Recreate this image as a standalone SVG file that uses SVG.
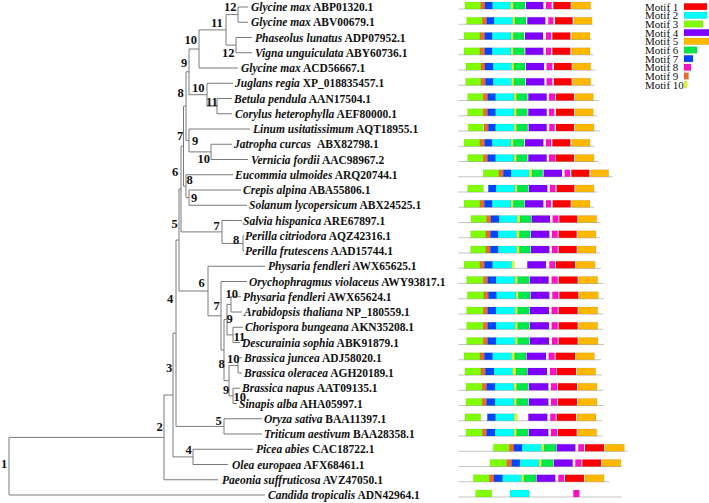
<svg xmlns="http://www.w3.org/2000/svg" width="709" height="503" viewBox="0 0 709 503">
<style>
text{font-family:"Liberation Serif","Times New Roman",serif;fill:#111}
.lf{font-size:11.5px;font-weight:bold}
.sp{font-style:italic}
.nl{font-size:12.5px;font-weight:bold}
.lg{font-size:11px}
.tree path{fill:none;stroke:#7a7a7a;stroke-width:1}
.bl{stroke:#c4c4c4;stroke-width:1.2;vector-effect:non-scaling-stroke}
.mr rect,.legend rect{height:7px;stroke:rgba(0,0,0,.15);stroke-width:.6;vector-effect:non-scaling-stroke}
.m1{fill:#ff0000}.m2{fill:#00ffff}.m3{fill:#80ff00}.m4{fill:#8000ff}.m5{fill:#ffb800}
.m6{fill:#00e84a}.m7{fill:#0046ff}.m8{fill:#ff10c8}.m9{fill:#ee6a2a}.m10{fill:#e0ff20}
</style>
<rect width="709" height="503" fill="#fff"/>

<g class="tree" id="connectors">
<path d="M248,7H238V22.25H248"/>
<path d="M252,37.5H236V52.75H252"/>
<path d="M238,14.6H226V45.1H236"/>
<path d="M226,29.9H199V68H238"/>
<path d="M232,98.5H217V113.75H232"/>
<path d="M233,83.25H207V106.1H217"/>
<path d="M199,49H189V94.7H207"/>
<path d="M232,144.25H211V159.5H248"/>
<path d="M250,129H189V151.9H211"/>
<path d="M189,71.8H186V140.4H189"/>
<path d="M241,190H189V205.25H247"/>
<path d="M233,174.75H186V197.6H189"/>
<path d="M186,106.1H183.5V186.2H186"/>
<path d="M244,235.75H243V251H244"/>
<path d="M242,220.5H222V243.4H243"/>
<path d="M183.5,146.1H181V231.9H222"/>
<path d="M241,296.75H231V312H242"/>
<path d="M243,327.25H233V342.5H240"/>
<path d="M231,304.4H227V334.9H233"/>
<path d="M242,357.75H238V373H242"/>
<path d="M240,388.25H233V403.5H237"/>
<path d="M238,365.4H229V395.9H233"/>
<path d="M227,319.6H224V380.6H229"/>
<path d="M247,281.5H221V350.1H224"/>
<path d="M265,266.25H208V315.8H221"/>
<path d="M181,189H179V291H208"/>
<path d="M262,418.75H224V434H262"/>
<path d="M179,240H176V426.4H224"/>
<path d="M253,449.25H193V464.5H228"/>
<path d="M176,333.2H173V456.9H193"/>
<path d="M173,395H164V479.75H218"/>
<path d="M164,437.4H9V495H265"/>
</g>

<g id="node-labels" class="nl">
<g id="n12a"><text x="224" y="11.3">12</text></g>
<g id="n11a"><text x="211" y="26.8">11</text></g>
<g id="n12b"><text x="222" y="57.1">12</text></g>
<g id="n10a"><text x="184.5" y="43.8">10</text></g>
<g id="n9a"><text x="181" y="66.8">9</text></g>
<g id="n10b"><text x="192" y="92.3">10</text></g>
<g id="n11b"><text x="206" y="106">11</text></g>
<g id="n8a"><text x="177.5" y="97.1">8</text></g>
<g id="n7a"><text x="177" y="140.1">7</text></g>
<g id="n9b"><text x="192" y="144.8">9</text></g>
<g id="n10c"><text x="197.5" y="163">10</text></g>
<g id="n6a"><text x="172" y="175.5">6</text></g>
<g id="n8b"><text x="186.5" y="183.8">8</text></g>
<g id="n9c"><text x="191" y="202.3">9</text></g>
<g id="n5a"><text x="171.5" y="228.1">5</text></g>
<g id="n7b"><text x="213.5" y="230.3">7</text></g>
<g id="n8c"><text x="233" y="243.8">8</text></g>
<g id="n6b"><text x="198.5" y="287.3">6</text></g>
<g id="n4a"><text x="167" y="303">4</text></g>
<g id="n10d"><text x="225.5" y="298.3">10</text></g>
<g id="n7c"><text x="213.5" y="310.3">7</text></g>
<g id="n9d"><text x="226.5" y="323.3">9</text></g>
<g id="n11d"><text x="233.5" y="341">11</text></g>
<g id="n10e"><text x="227" y="363">10</text></g>
<g id="n8d"><text x="218.5" y="368.1">8</text></g>
<g id="n9e"><text x="223" y="394.3">9</text></g>
<g id="n10f"><text x="233.5" y="401">10</text></g>
<g id="n3"><text x="166" y="372.3">3</text></g>
<g id="n5b"><text x="215.5" y="424.8">5</text></g>
<g id="n2"><text x="156.5" y="431.3">2</text></g>
<g id="n4b"><text x="185.5" y="454">4</text></g>
<g id="n1"><text x="1" y="468">1</text></g>
</g>

<g id="leaves" class="lf">
<g id="leaf1"><text x="251" y="11"><tspan class="sp">Glycine max</tspan> ABP01320.1</text></g>
<g id="leaf2"><text x="251" y="26.25"><tspan class="sp">Glycine max</tspan> ABV00679.1</text></g>
<g id="leaf3"><text x="255" y="41.5"><tspan class="sp">Phaseolus lunatus</tspan> ADP07952.1</text></g>
<g id="leaf4"><text x="255" y="56.75"><tspan class="sp">Vigna unguiculata</tspan> ABY60736.1</text></g>
<g id="leaf5"><text x="241" y="72"><tspan class="sp">Glycine max</tspan> ACD56667.1</text></g>
<g id="leaf6"><text x="235" y="87.25"><tspan class="sp">Juglans regia</tspan> XP_018835457.1</text></g>
<g id="leaf7"><text x="234" y="102.5"><tspan class="sp">Betula pendula</tspan> AAN17504.1</text></g>
<g id="leaf8"><text x="235" y="117.75"><tspan class="sp">Corylus heterophylla</tspan> AEF80000.1</text></g>
<g id="leaf9"><text x="253" y="133"><tspan class="sp">Linum usitatissimum</tspan> AQT18955.1</text></g>
<g id="leaf10"><text x="234" y="148.25"><tspan class="sp">Jatropha curcas</tspan><tspan dx="6">ABX82798.1</tspan></text></g>
<g id="leaf11"><text x="251" y="163.5"><tspan class="sp">Vernicia fordii</tspan> AAC98967.2</text></g>
<g id="leaf12"><text x="235" y="178.75"><tspan class="sp">Eucommia ulmoides</tspan> ARQ20744.1</text></g>
<g id="leaf13"><text x="243" y="194"><tspan class="sp">Crepis alpina</tspan> ABA55806.1</text></g>
<g id="leaf14"><text x="249" y="209.25"><tspan class="sp">Solanum lycopersicum</tspan> ABX24525.1</text></g>
<g id="leaf15"><text x="243" y="224.5"><tspan class="sp">Salvia hispanica</tspan> ARE67897.1</text></g>
<g id="leaf16"><text x="245" y="239.75"><tspan class="sp">Perilla citriodora</tspan> AQZ42316.1</text></g>
<g id="leaf17"><text x="245" y="255"><tspan class="sp">Perilla frutescens</tspan> AAD15744.1</text></g>
<g id="leaf18"><text x="268" y="270.25"><tspan class="sp">Physaria fendleri</tspan> AWX65625.1</text></g>
<g id="leaf19"><text x="249" y="285.5"><tspan class="sp">Orychophragmus violaceus</tspan> AWY93817.1</text></g>
<g id="leaf20"><text x="243" y="300.75"><tspan class="sp">Physaria fendleri</tspan> AWX65624.1</text></g>
<g id="leaf21"><text x="244" y="316"><tspan class="sp">Arabidopsis thaliana</tspan> NP_180559.1</text></g>
<g id="leaf22"><text x="245" y="331.25"><tspan class="sp">Chorispora bungeana</tspan> AKN35208.1</text></g>
<g id="leaf23"><text x="242" y="346.5"><tspan class="sp">Descurainia sophia</tspan> ABK91879.1</text></g>
<g id="leaf24"><text x="244" y="361.75"><tspan class="sp">Brassica juncea</tspan> ADJ58020.1</text></g>
<g id="leaf25"><text x="244" y="377"><tspan class="sp">Brassica oleracea</tspan> AGH20189.1</text></g>
<g id="leaf26"><text x="242" y="392.25"><tspan class="sp">Brassica napus</tspan> AAT09135.1</text></g>
<g id="leaf27"><text x="239" y="407.5"><tspan class="sp">Sinapis alba</tspan> AHA05997.1</text></g>
<g id="leaf28"><text x="264" y="422.75"><tspan class="sp">Oryza sativa</tspan> BAA11397.1</text></g>
<g id="leaf29"><text x="264" y="438"><tspan class="sp">Triticum aestivum</tspan> BAA28358.1</text></g>
<g id="leaf30"><text x="256" y="453.25"><tspan class="sp">Picea abies</tspan> CAC18722.1</text></g>
<g id="leaf31"><text x="232" y="468.5"><tspan class="sp">Olea europaea</tspan> AFX68461.1</text></g>
<g id="leaf32"><text x="222" y="483.75"><tspan class="sp">Paeonia suffruticosa</tspan> AVZ47050.1</text></g>
<g id="leaf33"><text x="268" y="499"><tspan class="sp">Candida tropicalis</tspan> ADN42964.1</text></g>
</g>

<g id="motifs">
<g class="mr" transform="translate(440,2) scale(0.33333,1)"><line class="bl" x1="55" x2="455" y1="7" y2="7"/><rect class="m3" x="75" width="47"/><rect class="m9" x="122" width="13"/><rect class="m7" x="135" width="23"/><rect class="m2" x="158" width="54"/><rect class="m10" x="212" width="8"/><rect class="m6" x="220" width="35"/><rect class="m4" x="258" width="52"/><rect class="m8" x="318" width="17"/><rect class="m1" x="340" width="52"/><rect class="m5" x="395" width="57"/></g>
<g class="mr" transform="translate(440,17.25) scale(0.33333,1)"><line class="bl" x1="55" x2="458" y1="7" y2="7"/><rect class="m3" x="80" width="47"/><rect class="m9" x="127" width="13"/><rect class="m7" x="140" width="22"/><rect class="m2" x="162" width="56"/><rect class="m10" x="218" width="7"/><rect class="m6" x="225" width="33"/><rect class="m4" x="262" width="54"/><rect class="m8" x="325" width="15"/><rect class="m1" x="345" width="53"/><rect class="m5" x="402" width="54"/></g>
<g class="mr" transform="translate(440,32.5) scale(0.33333,1)"><line class="bl" x1="55" x2="455" y1="7" y2="7"/><rect class="m3" x="72" width="48"/><rect class="m9" x="120" width="14"/><rect class="m7" x="134" width="23"/><rect class="m2" x="157" width="56"/><rect class="m10" x="213" width="7"/><rect class="m6" x="220" width="32"/><rect class="m4" x="255" width="54"/><rect class="m8" x="318" width="15"/><rect class="m1" x="337" width="54"/><rect class="m5" x="395" width="55"/></g>
<g class="mr" transform="translate(440,47.75) scale(0.33333,1)"><line class="bl" x1="55" x2="460" y1="7" y2="7"/><rect class="m3" x="72" width="48"/><rect class="m9" x="120" width="14"/><rect class="m7" x="134" width="23"/><rect class="m2" x="157" width="56"/><rect class="m10" x="213" width="7"/><rect class="m6" x="220" width="33"/><rect class="m4" x="256" width="54"/><rect class="m8" x="318" width="15"/><rect class="m1" x="337" width="54"/><rect class="m5" x="395" width="55"/></g>
<g class="mr" transform="translate(440,63) scale(0.33333,1)"><line class="bl" x1="55" x2="465" y1="7" y2="7"/><rect class="m3" x="78" width="45"/><rect class="m9" x="123" width="12"/><rect class="m7" x="135" width="24"/><rect class="m2" x="159" width="56"/><rect class="m10" x="215" width="7"/><rect class="m6" x="222" width="33"/><rect class="m4" x="258" width="54"/><rect class="m8" x="320" width="17"/><rect class="m1" x="342" width="53"/><rect class="m5" x="398" width="54"/></g>
<g class="mr" transform="translate(440,78.25) scale(0.33333,1)"><line class="bl" x1="55" x2="465" y1="7" y2="7"/><rect class="m3" x="77" width="46"/><rect class="m9" x="123" width="13"/><rect class="m7" x="136" width="24"/><rect class="m2" x="160" width="55"/><rect class="m10" x="215" width="7"/><rect class="m6" x="222" width="33"/><rect class="m4" x="258" width="55"/><rect class="m8" x="320" width="17"/><rect class="m1" x="342" width="53"/><rect class="m5" x="398" width="54"/></g>
<g class="mr" transform="translate(440,93.5) scale(0.33333,1)"><line class="bl" x1="55" x2="475" y1="7" y2="7"/><rect class="m3" x="83" width="47"/><rect class="m9" x="130" width="13"/><rect class="m7" x="143" width="24"/><rect class="m2" x="167" width="55"/><rect class="m10" x="222" width="8"/><rect class="m6" x="230" width="32"/><rect class="m4" x="265" width="55"/><rect class="m8" x="327" width="18"/><rect class="m1" x="348" width="54"/><rect class="m5" x="405" width="55"/></g>
<g class="mr" transform="translate(440,108.75) scale(0.33333,1)"><line class="bl" x1="55" x2="472" y1="7" y2="7"/><rect class="m3" x="83" width="47"/><rect class="m9" x="130" width="13"/><rect class="m7" x="143" width="24"/><rect class="m2" x="167" width="55"/><rect class="m10" x="222" width="8"/><rect class="m6" x="230" width="32"/><rect class="m4" x="265" width="55"/><rect class="m8" x="327" width="16"/><rect class="m1" x="348" width="54"/><rect class="m5" x="405" width="55"/></g>
<g class="mr" transform="translate(440,124) scale(0.33333,1)"><line class="bl" x1="55" x2="480" y1="7" y2="7"/><rect class="m3" x="85" width="45"/><rect class="m9" x="132" width="13"/><rect class="m7" x="145" width="22"/><rect class="m2" x="167" width="56"/><rect class="m10" x="223" width="7"/><rect class="m6" x="230" width="33"/><rect class="m4" x="266" width="54"/><rect class="m8" x="328" width="16"/><rect class="m1" x="348" width="54"/><rect class="m5" x="405" width="57"/></g>
<g class="mr" transform="translate(440,139.25) scale(0.33333,1)"><line class="bl" x1="55" x2="463" y1="7" y2="7"/><rect class="m3" x="72" width="48"/><rect class="m9" x="120" width="14"/><rect class="m7" x="134" width="23"/><rect class="m2" x="157" width="56"/><rect class="m10" x="213" width="7"/><rect class="m6" x="220" width="32"/><rect class="m4" x="255" width="55"/><rect class="m8" x="318" width="15"/><rect class="m1" x="337" width="54"/><rect class="m5" x="395" width="55"/></g>
<g class="mr" transform="translate(440,154.5) scale(0.33333,1)"><line class="bl" x1="55" x2="475" y1="7" y2="7"/><rect class="m3" x="83" width="47"/><rect class="m9" x="130" width="13"/><rect class="m7" x="143" width="24"/><rect class="m2" x="167" width="55"/><rect class="m10" x="222" width="8"/><rect class="m6" x="230" width="32"/><rect class="m4" x="265" width="55"/><rect class="m8" x="327" width="18"/><rect class="m1" x="347" width="55"/><rect class="m5" x="405" width="57"/></g>
<g class="mr" transform="translate(440,169.75) scale(0.33333,1)"><line class="bl" x1="55" x2="518" y1="7" y2="7"/><rect class="m3" x="130" width="47"/><rect class="m9" x="177" width="13"/><rect class="m7" x="190" width="23"/><rect class="m2" x="213" width="55"/><rect class="m10" x="268" width="8"/><rect class="m6" x="276" width="32"/><rect class="m4" x="311" width="55"/><rect class="m8" x="374" width="16"/><rect class="m1" x="394" width="54"/><rect class="m5" x="452" width="54"/></g>
<g class="mr" transform="translate(440,185) scale(0.33333,1)"><line class="bl" x1="55" x2="472" y1="7" y2="7"/><rect class="m3" x="83" width="47"/><rect class="m7" x="145" width="23"/><rect class="m2" x="168" width="57"/><rect class="m10" x="225" width="7"/><rect class="m6" x="232" width="33"/><rect class="m4" x="267" width="55"/><rect class="m8" x="330" width="16"/><rect class="m1" x="350" width="53"/><rect class="m5" x="406" width="56"/></g>
<g class="mr" transform="translate(440,200.25) scale(0.33333,1)"><line class="bl" x1="55" x2="463" y1="7" y2="7"/><rect class="m3" x="72" width="48"/><rect class="m9" x="120" width="13"/><rect class="m7" x="133" width="24"/><rect class="m2" x="157" width="56"/><rect class="m10" x="213" width="7"/><rect class="m6" x="220" width="33"/><rect class="m4" x="255" width="55"/><rect class="m8" x="318" width="15"/><rect class="m1" x="338" width="54"/><rect class="m5" x="395" width="55"/></g>
<g class="mr" transform="translate(440,215.5) scale(0.33333,1)"><line class="bl" x1="55" x2="482" y1="7" y2="7"/><rect class="m3" x="93" width="47"/><rect class="m9" x="140" width="13"/><rect class="m7" x="153" width="24"/><rect class="m2" x="177" width="55"/><rect class="m10" x="232" width="8"/><rect class="m6" x="240" width="33"/><rect class="m4" x="275" width="55"/><rect class="m8" x="338" width="17"/><rect class="m1" x="358" width="54"/><rect class="m5" x="415" width="55"/></g>
<g class="mr" transform="translate(440,230.75) scale(0.33333,1)"><line class="bl" x1="55" x2="480" y1="7" y2="7"/><rect class="m3" x="92" width="46"/><rect class="m9" x="138" width="13"/><rect class="m7" x="151" width="24"/><rect class="m2" x="175" width="55"/><rect class="m10" x="230" width="8"/><rect class="m6" x="238" width="33"/><rect class="m4" x="273" width="55"/><rect class="m8" x="336" width="17"/><rect class="m1" x="356" width="54"/><rect class="m5" x="413" width="55"/></g>
<g class="mr" transform="translate(440,246) scale(0.33333,1)"><line class="bl" x1="55" x2="480" y1="7" y2="7"/><rect class="m3" x="92" width="46"/><rect class="m9" x="138" width="13"/><rect class="m7" x="151" width="24"/><rect class="m2" x="175" width="55"/><rect class="m10" x="230" width="8"/><rect class="m6" x="238" width="33"/><rect class="m4" x="273" width="55"/><rect class="m8" x="336" width="17"/><rect class="m1" x="356" width="54"/><rect class="m5" x="413" width="55"/></g>
<g class="mr" transform="translate(440,261.25) scale(0.33333,1)"><line class="bl" x1="55" x2="483" y1="7" y2="7"/><rect class="m3" x="72" width="48"/><rect class="m9" x="120" width="13"/><rect class="m7" x="133" width="25"/><rect class="m2" x="158" width="57"/><rect class="m10" x="215" width="8"/><rect class="m4" x="262" width="56"/><rect class="m8" x="328" width="17"/><rect class="m1" x="348" width="57"/><rect class="m5" x="408" width="57"/></g>
<g class="mr" transform="translate(440,276.5) scale(0.33333,1)"><line class="bl" x1="55" x2="490" y1="7" y2="7"/><rect class="m3" x="80" width="50"/><rect class="m9" x="130" width="13"/><rect class="m7" x="143" width="25"/><rect class="m2" x="168" width="57"/><rect class="m10" x="225" width="8"/><rect class="m6" x="233" width="35"/><rect class="m4" x="270" width="56"/><rect class="m8" x="335" width="18"/><rect class="m1" x="356" width="57"/><rect class="m5" x="416" width="57"/></g>
<g class="mr" transform="translate(440,291.75) scale(0.33333,1)"><line class="bl" x1="55" x2="492" y1="7" y2="7"/><rect class="m3" x="82" width="50"/><rect class="m9" x="132" width="13"/><rect class="m7" x="145" width="25"/><rect class="m2" x="170" width="58"/><rect class="m10" x="228" width="7"/><rect class="m6" x="235" width="35"/><rect class="m4" x="272" width="56"/><rect class="m8" x="337" width="18"/><rect class="m1" x="358" width="57"/><rect class="m5" x="418" width="57"/></g>
<g class="mr" transform="translate(440,307) scale(0.33333,1)"><line class="bl" x1="55" x2="490" y1="7" y2="7"/><rect class="m3" x="80" width="50"/><rect class="m9" x="130" width="13"/><rect class="m7" x="143" width="25"/><rect class="m2" x="168" width="58"/><rect class="m10" x="226" width="7"/><rect class="m6" x="233" width="35"/><rect class="m4" x="270" width="57"/><rect class="m8" x="335" width="18"/><rect class="m1" x="356" width="57"/><rect class="m5" x="416" width="57"/></g>
<g class="mr" transform="translate(440,322.25) scale(0.33333,1)"><line class="bl" x1="55" x2="490" y1="7" y2="7"/><rect class="m3" x="80" width="50"/><rect class="m9" x="130" width="13"/><rect class="m7" x="143" width="25"/><rect class="m2" x="168" width="58"/><rect class="m10" x="226" width="7"/><rect class="m6" x="233" width="35"/><rect class="m4" x="270" width="57"/><rect class="m8" x="335" width="18"/><rect class="m1" x="356" width="57"/><rect class="m5" x="416" width="57"/></g>
<g class="mr" transform="translate(440,337.5) scale(0.33333,1)"><line class="bl" x1="55" x2="492" y1="7" y2="7"/><rect class="m3" x="80" width="50"/><rect class="m9" x="130" width="13"/><rect class="m7" x="143" width="25"/><rect class="m2" x="168" width="58"/><rect class="m10" x="226" width="7"/><rect class="m6" x="233" width="35"/><rect class="m4" x="270" width="57"/><rect class="m8" x="336" width="17"/><rect class="m1" x="356" width="57"/><rect class="m5" x="416" width="58"/></g>
<g class="mr" transform="translate(440,352.75) scale(0.33333,1)"><line class="bl" x1="55" x2="483" y1="7" y2="7"/><rect class="m3" x="72" width="48"/><rect class="m9" x="120" width="13"/><rect class="m7" x="133" width="25"/><rect class="m2" x="158" width="57"/><rect class="m10" x="215" width="9"/><rect class="m6" x="224" width="34"/><rect class="m4" x="260" width="58"/><rect class="m8" x="326" width="18"/><rect class="m1" x="347" width="58"/><rect class="m5" x="407" width="56"/></g>
<g class="mr" transform="translate(440,368) scale(0.33333,1)"><line class="bl" x1="55" x2="486" y1="7" y2="7"/><rect class="m3" x="75" width="48"/><rect class="m9" x="123" width="13"/><rect class="m7" x="136" width="26"/><rect class="m2" x="162" width="56"/><rect class="m10" x="218" width="10"/><rect class="m6" x="228" width="33"/><rect class="m4" x="263" width="58"/><rect class="m8" x="330" width="18"/><rect class="m1" x="350" width="58"/><rect class="m5" x="411" width="56"/></g>
<g class="mr" transform="translate(440,383.25) scale(0.33333,1)"><line class="bl" x1="55" x2="490" y1="7" y2="7"/><rect class="m3" x="78" width="49"/><rect class="m9" x="127" width="13"/><rect class="m7" x="140" width="25"/><rect class="m2" x="165" width="57"/><rect class="m10" x="222" width="8"/><rect class="m6" x="230" width="35"/><rect class="m4" x="267" width="58"/><rect class="m8" x="333" width="18"/><rect class="m1" x="354" width="57"/><rect class="m5" x="414" width="57"/></g>
<g class="mr" transform="translate(440,398.5) scale(0.33333,1)"><line class="bl" x1="55" x2="490" y1="7" y2="7"/><rect class="m3" x="78" width="49"/><rect class="m9" x="127" width="13"/><rect class="m7" x="140" width="25"/><rect class="m2" x="165" width="57"/><rect class="m10" x="222" width="8"/><rect class="m6" x="230" width="35"/><rect class="m4" x="267" width="58"/><rect class="m8" x="333" width="18"/><rect class="m1" x="354" width="57"/><rect class="m5" x="414" width="57"/></g>
<g class="mr" transform="translate(440,413.75) scale(0.33333,1)"><line class="bl" x1="55" x2="487" y1="7" y2="7"/><rect class="m3" x="75" width="47"/><rect class="m7" x="142" width="25"/><rect class="m2" x="167" width="56"/><rect class="m10" x="223" width="9"/><rect class="m4" x="265" width="57"/><rect class="m8" x="331" width="16"/><rect class="m1" x="350" width="58"/><rect class="m5" x="411" width="57"/></g>
<g class="mr" transform="translate(440,429) scale(0.33333,1)"><line class="bl" x1="55" x2="488" y1="7" y2="7"/><rect class="m3" x="78" width="49"/><rect class="m9" x="127" width="13"/><rect class="m7" x="140" width="25"/><rect class="m2" x="165" width="57"/><rect class="m10" x="222" width="8"/><rect class="m6" x="230" width="35"/><rect class="m4" x="267" width="58"/><rect class="m8" x="333" width="18"/><rect class="m1" x="354" width="56"/><rect class="m5" x="413" width="57"/></g>
<g class="mr" transform="translate(440,444.25) scale(0.33333,1)"><line class="bl" x1="55" x2="563" y1="7" y2="7"/><rect class="m3" x="160" width="48"/><rect class="m9" x="208" width="14"/><rect class="m7" x="222" width="25"/><rect class="m2" x="247" width="58"/><rect class="m10" x="305" width="7"/><rect class="m6" x="312" width="36"/><rect class="m4" x="350" width="56"/><rect class="m8" x="415" width="17"/><rect class="m1" x="435" width="57"/><rect class="m5" x="495" width="58"/></g>
<g class="mr" transform="translate(440,459.5) scale(0.33333,1)"><line class="bl" x1="55" x2="545" y1="7" y2="7"/><rect class="m3" x="150" width="50"/><rect class="m9" x="200" width="15"/><rect class="m7" x="215" width="25"/><rect class="m2" x="240" width="57"/><rect class="m10" x="297" width="8"/><rect class="m6" x="305" width="35"/><rect class="m4" x="342" width="56"/><rect class="m8" x="406" width="18"/><rect class="m1" x="427" width="56"/><rect class="m5" x="486" width="57"/></g>
<g class="mr" transform="translate(440,474.75) scale(0.33333,1)"><line class="bl" x1="55" x2="508" y1="7" y2="7"/><rect class="m3" x="100" width="48"/><rect class="m9" x="148" width="14"/><rect class="m7" x="162" width="26"/><rect class="m2" x="188" width="57"/><rect class="m10" x="245" width="7"/><rect class="m6" x="252" width="36"/><rect class="m4" x="290" width="56"/><rect class="m8" x="355" width="17"/><rect class="m1" x="375" width="57"/><rect class="m5" x="435" width="57"/></g>
<g class="mr" transform="translate(440,490) scale(0.33333,1)"><line class="bl" x1="55" x2="545" y1="7" y2="7"/><rect class="m3" x="107" width="48"/><rect class="m2" x="210" width="58"/><rect class="m8" x="400" width="18"/></g>
</g>

<g id="legend" class="legend">
<g class="lg">
<text x="645" y="10.5">Motif 1</text>
<text x="645" y="19.2">Motif 2</text>
<text x="645" y="27.8">Motif 3</text>
<text x="645" y="36.5">Motif 4</text>
<text x="645" y="45.2">Motif 5</text>
<text x="645" y="53.8">Motif 6</text>
<text x="645" y="62.5">Motif 7</text>
<text x="645" y="71.2">Motif 8</text>
<text x="645" y="79.8">Motif 9</text>
<text x="645" y="88.5">Motif 10</text>
</g>
<rect class="m1" x="684" y="3.3" width="23" style="height:6.6px"/>
<rect class="m2" x="684" y="12" width="23" style="height:6.6px"/>
<rect class="m3" x="684" y="20.7" width="19" style="height:6.6px"/>
<rect class="m4" x="684" y="29.3" width="25" style="height:6.6px"/>
<rect class="m5" x="684" y="38" width="25" style="height:6.6px"/>
<rect class="m6" x="684" y="46.7" width="13" style="height:6.6px"/>
<rect class="m7" x="684" y="55.3" width="9" style="height:6.6px"/>
<rect class="m8" x="684" y="64" width="7" style="height:6.6px"/>
<rect class="m9" x="684" y="72.7" width="4.5" style="height:6.6px"/>
<rect class="m10" x="684" y="81.3" width="3" style="height:6.6px"/>
</g>
</svg>
